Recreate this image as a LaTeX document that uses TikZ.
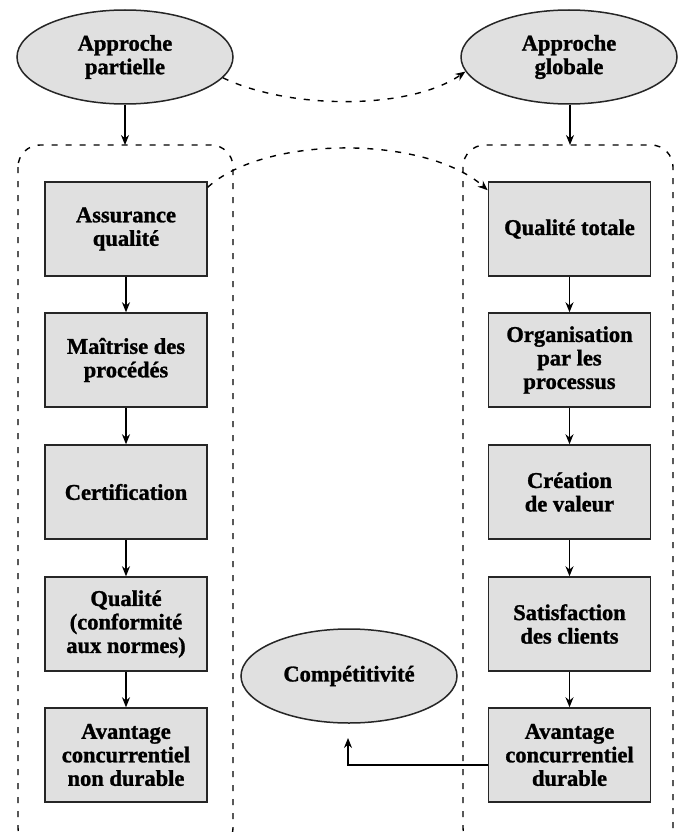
\documentclass[tikz,border=0pt]{standalone}
\usepackage{fontspec}
\setmainfont[BoldFeatures={FakeBold=1.2}]{Liberation Serif}
\usetikzlibrary{shapes.geometric,arrows.meta,calc}
\definecolor{boxfill}{HTML}{E0E0E0}
\begin{document}
\begin{tikzpicture}[x=1pt,y=-1pt,
  lbl/.style={font=\fontsize{22.5}{23.5}\selectfont\bfseries, align=center},
  stepbox/.style={lbl, draw=black!85, line width=1.5pt, fill=boxfill, minimum width=162pt, minimum height=94pt, inner sep=0pt},
  oval/.style={lbl, ellipse, draw=black!85, line width=1.5pt, fill=boxfill, minimum width=216pt, minimum height=94pt, inner sep=0pt},
  flow/.style={line width=1.2pt, -{Stealth[length=10pt,width=8pt]}},
  dashflow/.style={line width=1.4pt, dash pattern=on 6pt off 8pt, -{Stealth[length=10pt,width=8pt]}},
  frame/.style={line width=1.4pt, dash pattern=on 6pt off 8pt, rounded corners=22pt}]
\useasboundingbox (0,0) rectangle (683,832);
% dashed frames
\draw[frame] (18,145) rectangle (233,850);
\draw[frame] (463,145) rectangle (673,850);
% ovals
\node[oval] (ap) at (125,57) {Approche\\partielle};
\node[oval] (ag) at (569,57) {Approche\\globale};
\node[oval] (comp) at (349,676) {Compétitivité};
% left column
\node[stepbox] (l1) at (126,229) {Assurance\\qualité};
\node[stepbox] (l2) at (126,360) {Maîtrise des\\procédés};
\node[stepbox] (l3) at (126,492) {Certification};
\node[stepbox] (l4) at (126,624) {Qualité\\(conformité\\aux normes)};
\node[stepbox] (l5) at (126,755) {Avantage\\concurrentiel\\non durable};
% right column
\node[stepbox] (r1) at (569.5,229) {Qualité totale};
\node[stepbox] (r2) at (569.5,360) {Organisation\\par les\\processus};
\node[stepbox] (r3) at (569.5,492) {Création\\de valeur};
\node[stepbox] (r4) at (569.5,624) {Satisfaction\\des clients};
\node[stepbox] (r5) at (569.5,755) {Avantage\\concurrentiel\\durable};
% frame entry points
\coordinate (lt) at (125,145);
\coordinate (rt) at (570,145);
\coordinate (ce) at (348,738);
% connectors
\draw[flow] (ap.south) -- (lt);
\draw[flow] (rt |- ag.south) -- (rt);
\foreach \a/\b in {l1/l2,l2/l3,l3/l4,l4/l5,r1/r2,r2/r3,r3/r4,r4/r5}
  \draw[flow] (\a) -- (\b);
\draw[dashflow] (ap.-12) .. controls (290,110) and (410,110) .. (ag.188);
\draw[dashflow] ([yshift=-6pt]l1.north east) .. controls (265,135) and (425,135) .. ([yshift=-9pt]r1.north west);
\draw[flow] ([yshift=-10pt]r5.west) -| (ce);
\end{tikzpicture}
\end{document}
